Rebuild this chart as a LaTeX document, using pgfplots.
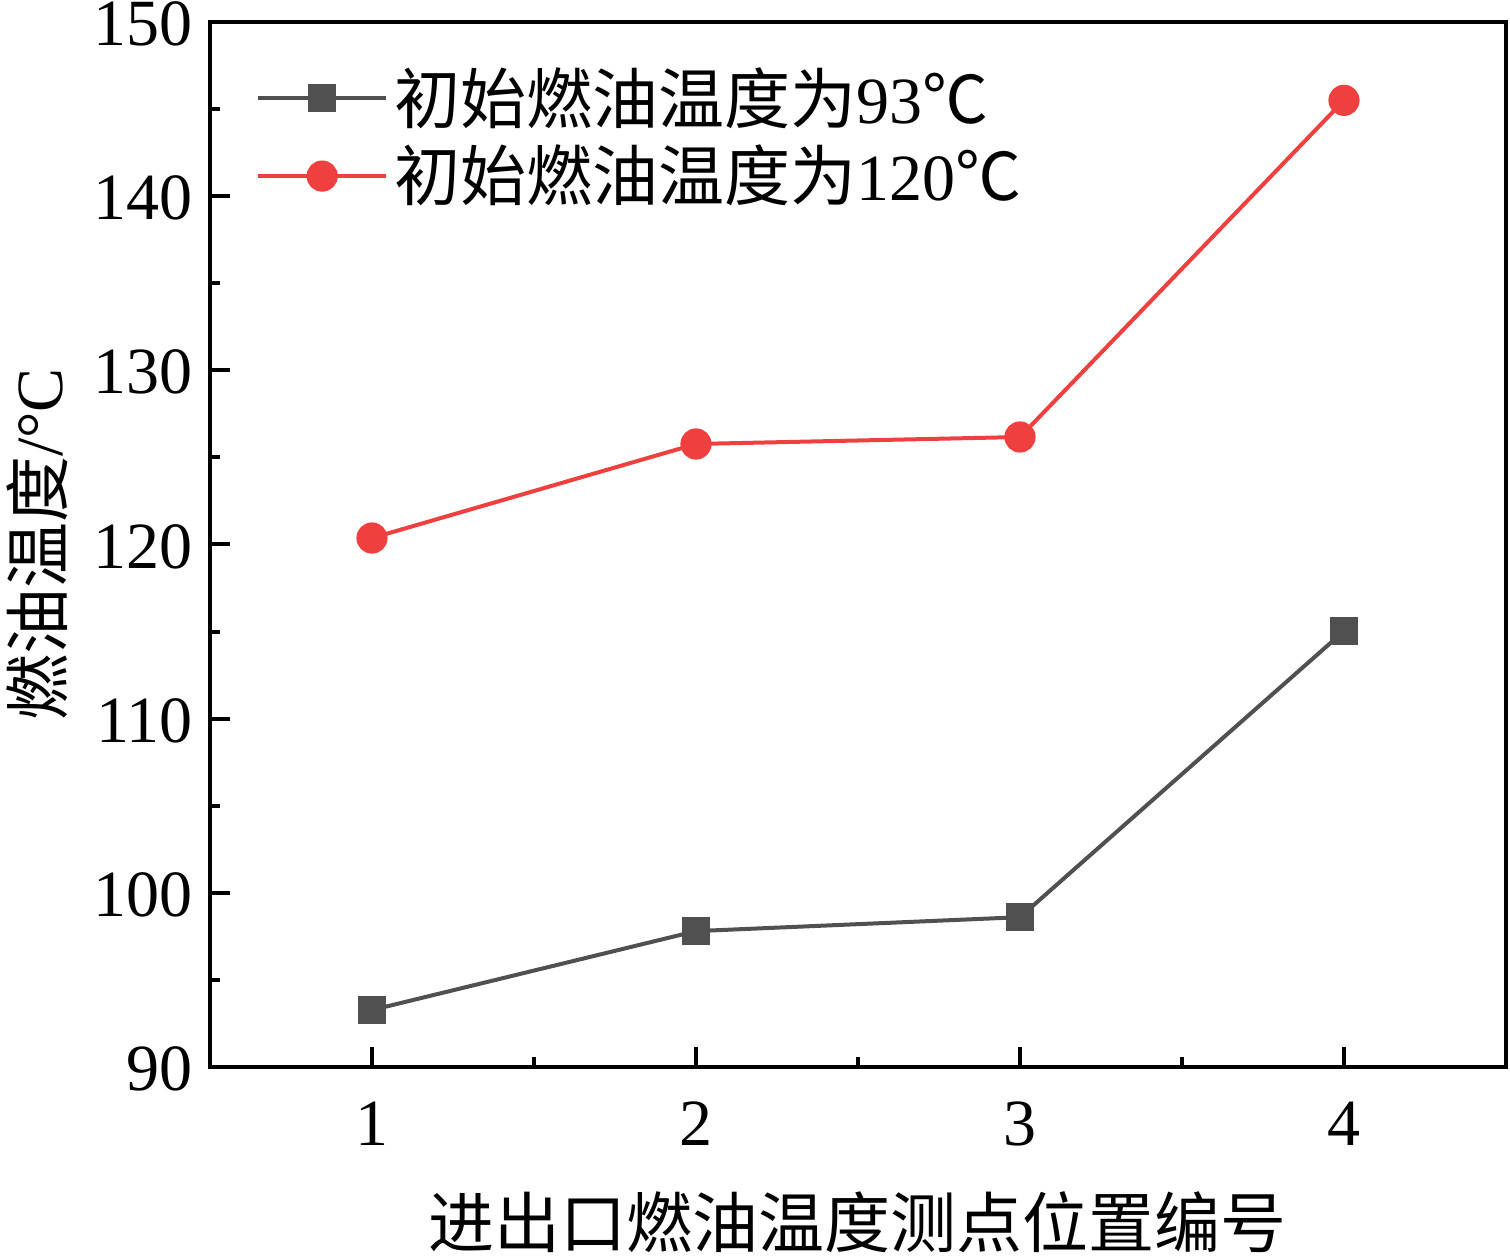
\documentclass[border=0pt]{standalone}
\usepackage{fontspec}
\setmainfont{Liberation Serif}
\newfontfamily\cjk{Noto Sans CJK SC}
\usepackage{pgfplots}
\pgfplotsset{compat=1.18}
\definecolor{cgray}{RGB}{80,80,80}
\definecolor{cred}{RGB}{239,64,64}
\newcommand{\fs}{\fontsize{16.5}{19.8}\selectfont}
\begin{document}
\begin{tikzpicture}
\begin{axis}[
 name=ax,
 scale only axis, width=324pt, height=261.25pt,
 xmin=0.5, xmax=4.5, ymin=90, ymax=150,
 xtick={1,2,3,4}, ytick={90,100,...,150},
 minor x tick num=1, minor y tick num=1,
 tick align=inside, xtick pos=left, ytick pos=left,
 major tick length=5pt, minor tick length=2.5pt,
 axis line style={line width=1.1pt},
 tick style={black, line width=1pt},
 /pgf/number format/assume math mode=true,
 ticklabel style={font=\fs},
 xticklabel style={yshift=-5.25pt},
 yticklabel style={xshift=-0.75pt, yshift=-0.5pt},
 xlabel={\cjk 进出口燃油温度测点位置编号},
 ylabel={{\cjk 燃油温度}/°C},
 label style={font=\fs},
 xlabel style={at={(axis description cs:0.5,-0.1483)}, anchor=center},
 ylabel style={at={(axis description cs:-0.1335,0.5)}, anchor=center},
 legend style={draw=none, fill=none, at={(axis description cs:0.035,0.963)}, anchor=north west,
   inner sep=0pt, row sep=1pt, font=\fs, nodes={inner sep=1.5pt}},
 legend cell align=left,
 legend image code/.code={\draw[mark repeat=2,mark phase=2,#1] plot coordinates {(0pt,0pt) (16pt,0pt) (32pt,0pt)};},
]
\addplot[cgray, line width=1pt, mark=square*, mark size=3pt, mark options={solid, fill=cgray}]
 coordinates {(1,93.27) (2,97.8) (3,98.6) (4,115.03)};
\addlegendentry{{\cjk 初始燃油温度为}93{\cjk ℃}}
\addplot[cred, line width=1pt, mark=*, mark size=3.4pt, mark options={solid, fill=cred}]
 coordinates {(1,120.37) (2,125.77) (3,126.17) (4,145.5)};
\addlegendentry{{\cjk 初始燃油温度为}120{\cjk ℃}}
\end{axis}
\pgfresetboundingbox
\path[use as bounding box] ([xshift=-52.5pt,yshift=-47.25pt]ax.south west) rectangle ([xshift=1pt,yshift=5.5pt]ax.north east);
\end{tikzpicture}
\end{document}
